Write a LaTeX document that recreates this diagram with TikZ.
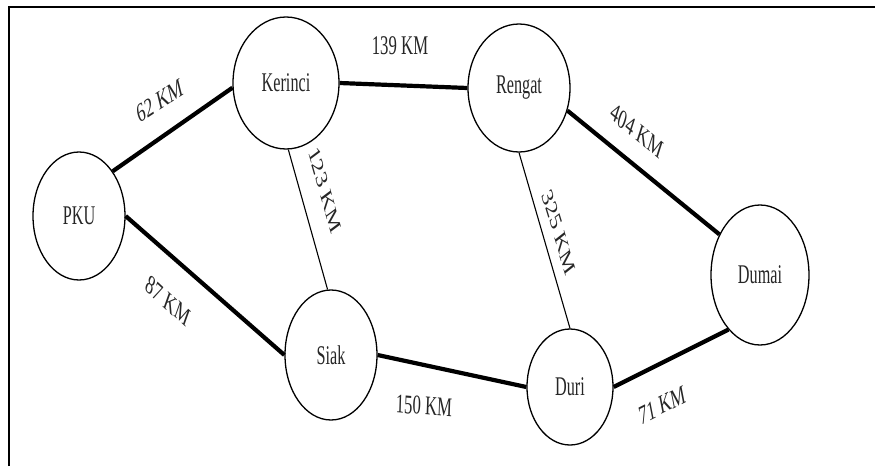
\documentclass[tikz,border=0pt]{standalone}
\usepackage{graphicx}
\usepackage{fontspec}
\setmainfont{Liberation Serif}
\usetikzlibrary{shapes.geometric}

% the lettering is condensed horizontally
\def\squeeze{0.62}
\newcommand\cityname[1]{\scalebox{0.6}[1]{#1}}

% distance label: name, centre, visible slope angle, text
\newcommand\distlabel[4]{%
  \pgfmathsetmacro\innerangle{atan(\squeeze*tan(#3))}%
  \begin{scope}[shift={#2}, xscale=\squeeze]
    \node[dist, rotate=\innerangle, transform shape] (#1) at (0,0) {#4};
  \end{scope}}

\tikzset{
  city/.style={draw=black, line width=1.3pt, ellipse, inner sep=0pt, fill=white,
    font=\fontsize{27}{27}\selectfont, text=black!85},
  road/.style={line width=4.2pt, draw=black},
  lane/.style={line width=1.1pt, draw=black},
  dist/.style={font=\fontsize{27}{27}\selectfont, text=black!85, inner sep=0pt}
}

\begin{document}
\begin{tikzpicture}[x=1pt, y=-1pt]
  \useasboundingbox[fill=white] (0,0) rectangle (875,466);

  % open frame (left and top edges)
  \draw[line width=1.6pt] (9,466) -- (9,7) -- (875,7);

  % cities
  \node[city, minimum width=92pt, minimum height=128pt]  (pku) at (79,216) {\cityname{PKU}};
  \node[city, minimum width=106pt, minimum height=132pt] (ker) at (286,83) {\cityname{Kerinci}};
  \node[city, minimum width=102pt, minimum height=128pt] (ren) at (519,88) {\cityname{Rengat}};
  \node[city, minimum width=98pt, minimum height=140pt]  (dum) at (760,275) {\cityname{Dumai}};
  \node[city, minimum width=92pt, minimum height=130pt]  (sia) at (331,355) {\cityname{Siak}};
  \node[city, minimum width=86pt, minimum height=116pt]  (dur) at (570,387) {\cityname{Duri}};

  % roads
  \draw[road] (pku.53) -- (ker.185);
  \draw[road] (ker.0) -- (ren.180);
  \draw[road] (ren.-25) -- (dum.135);
  \draw[road] (pku.0) -- (sia.180);
  \draw[road] (sia.0) -- (dur.180);
  \draw[road] (dur.0) -- (dum.240);
  \draw[lane] (ker.-88) -- (sia.93);
  \draw[lane] (ren.-90) -- (dur.90);

  % distances
  \distlabel{d1}{(160,101)}{33}{62 KM}
  \distlabel{d2}{(400,46)}{0}{139 KM}
  \distlabel{d3}{(325,190)}{-74}{123 KM}
  \distlabel{d4}{(559,232)}{-73}{325 KM}
  \distlabel{d5}{(637,131)}{-40}{404 KM}
  \distlabel{d6}{(168,301)}{-43}{87 KM}
  \distlabel{d7}{(424,406)}{-5}{150 KM}
  \distlabel{d8}{(662,405)}{27}{71 KM}
\end{tikzpicture}
\end{document}
